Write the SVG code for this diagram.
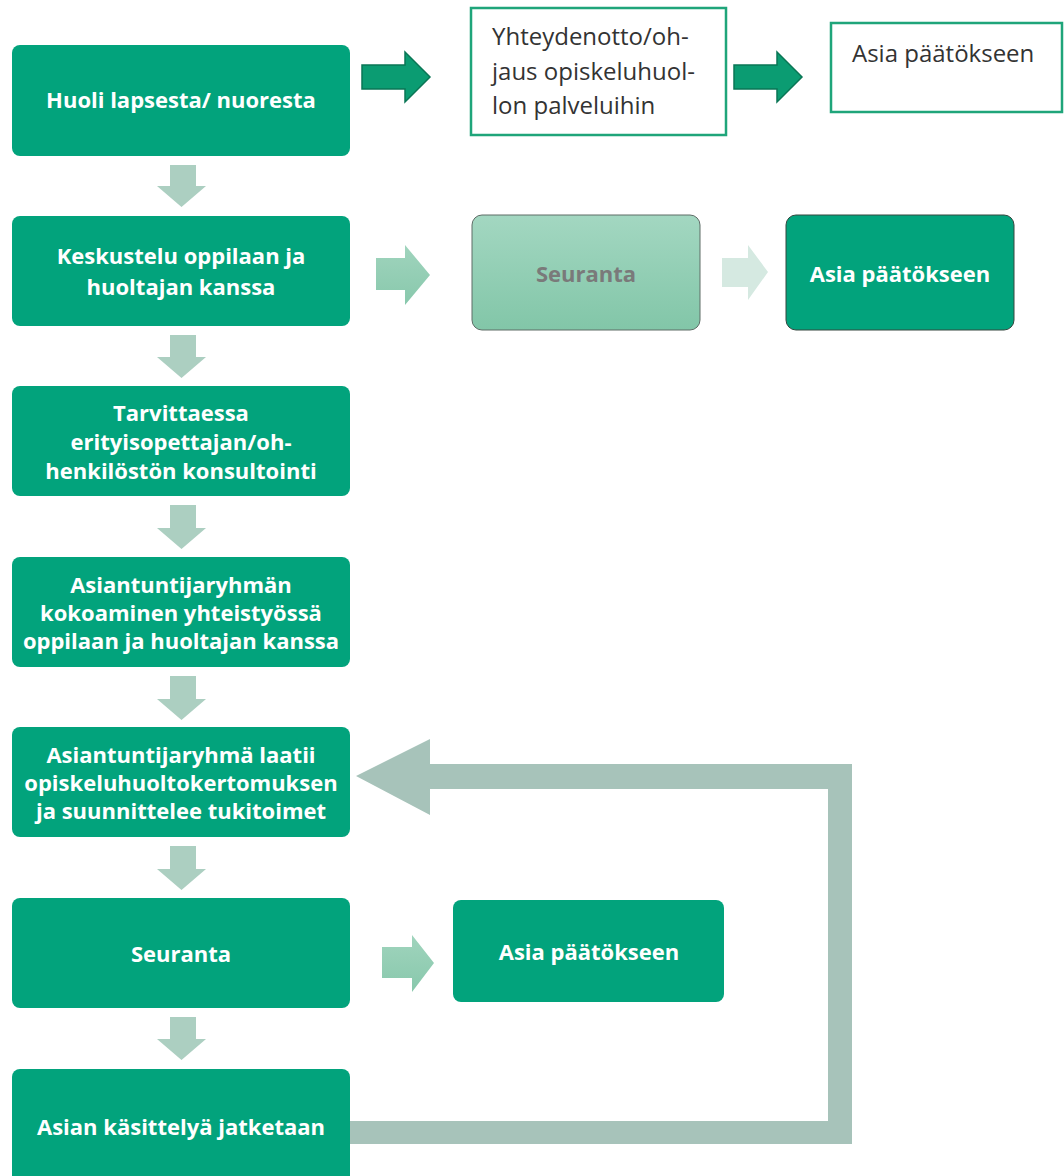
<svg xmlns="http://www.w3.org/2000/svg" width="1064" height="1176" viewBox="0 0 1064 1176">
  <defs>
    <linearGradient id="gSeur" x1="0" y1="0" x2="0" y2="1">
      <stop offset="0" stop-color="#A3D7C1"/>
      <stop offset="1" stop-color="#82C6A8"/>
    </linearGradient>
    <linearGradient id="gArr" x1="0" y1="0" x2="0" y2="1">
      <stop offset="0" stop-color="#A0D4BD"/>
      <stop offset="1" stop-color="#88C8AC"/>
    </linearGradient>
    <style>
      .box { fill: #02A37C; }
      .wbox { fill: #FFFFFF; stroke: #1FA57A; stroke-width: 2.5; }
      .t { font-family: "Open Sans", "Liberation Sans", sans-serif; font-weight: bold; font-size: 22px; fill: #FFFFFF; text-anchor: middle; }
      .tr { font-family: "Open Sans", "Liberation Sans", sans-serif; font-size: 24px; fill: #333333; }
      .down { fill: #ACCFC1; }
      .dark { fill: #0B9C72; stroke: #0A7655; stroke-width: 1.5; }
    </style>
  </defs>

  <g id="connectors">
    <path class="dark" d="M362,65 H405 V52 L430,77 L405,102 V89 H362 Z"/>
    <path class="dark" d="M734,65 H777 V52 L802,77 L777,102 V89 H734 Z"/>
    <path class="down" d="M170,165 H196 V186 H206 L181.5,207 L157,186 H170 Z"/>
    <path class="down" d="M170,335 H196 V357 H206 L181.5,378 L157,357 H170 Z"/>
    <path class="down" d="M170,505 H196 V528 H206 L181.5,549 L157,528 H170 Z"/>
    <path class="down" d="M170,676 H196 V699 H206 L181.5,720 L157,699 H170 Z"/>
    <path class="down" d="M170,846 H196 V869 H206 L181.5,890 L157,869 H170 Z"/>
    <path class="down" d="M170,1017 H196 V1039 H206 L181.5,1060 L157,1039 H170 Z"/>
    <path fill="url(#gArr)" d="M376,258 H405 V245 L430,275 L405,305 V290 H376 Z"/>
    <path fill="#D5E9E1" d="M722,258 H748 V245 L768,272 L748,300 V287 H722 Z"/>
    <path fill="url(#gArr)" d="M382,947 H412 V935 L434,963 L412,992 V978 H382 Z"/>
    <path fill="#A7C3BA" d="M348,1121 H828 V789 H430 V815 L356,776 L430,739 V764 H852 V1144 H348 Z"/>
  </g>

  <g id="n1">
    <rect class="box" x="12" y="45" width="338" height="111" rx="8"/>
    <text class="t" x="181" y="108">Huoli lapsesta/ nuoresta</text>
  </g>
  <g id="n2">
    <rect class="wbox" x="471" y="8" width="255" height="127"/>
    <text class="tr" x="492" y="45">Yhteydenotto/oh-</text>
    <text class="tr" x="492" y="80">jaus opiskeluhuol-</text>
    <text class="tr" x="492" y="114">lon palveluihin</text>
  </g>
  <g id="n3">
    <rect class="wbox" x="831" y="23" width="231" height="89"/>
    <text class="tr" x="852" y="62">Asia päätökseen</text>
  </g>
  <g id="n4">
    <rect class="box" x="12" y="216" width="338" height="110" rx="8"/>
    <text class="t" x="181" y="264">Keskustelu oppilaan ja</text>
    <text class="t" x="181" y="295">huoltajan kanssa</text>
  </g>
  <g id="n5">
    <rect fill="url(#gSeur)" stroke="#5E6C66" stroke-width="1" x="472" y="215" width="228" height="115" rx="10"/>
    <text class="t" x="586" y="282" style="fill:#7A7A7A">Seuranta</text>
  </g>
  <g id="n6">
    <rect class="box" stroke="#34463F" stroke-width="1" x="786" y="215" width="228" height="115" rx="10"/>
    <text class="t" x="900" y="282">Asia päätökseen</text>
  </g>
  <g id="n7">
    <rect class="box" x="12" y="386" width="338" height="110" rx="8"/>
    <text class="t" x="181" y="421">Tarvittaessa</text>
    <text class="t" x="181" y="450">erityisopettajan/oh-</text>
    <text class="t" x="181" y="479">henkilöstön konsultointi</text>
  </g>
  <g id="n8">
    <rect class="box" x="12" y="557" width="338" height="110" rx="8"/>
    <text class="t" x="181" y="593">Asiantuntijaryhmän</text>
    <text class="t" x="181" y="621">kokoaminen yhteistyössä</text>
    <text class="t" x="181" y="649">oppilaan ja huoltajan kanssa</text>
  </g>
  <g id="n9">
    <rect class="box" x="12" y="727" width="338" height="110" rx="8"/>
    <text class="t" x="181" y="763">Asiantuntijaryhmä laatii</text>
    <text class="t" x="181" y="791">opiskeluhuoltokertomuksen</text>
    <text class="t" x="181" y="819">ja suunnittelee tukitoimet</text>
  </g>
  <g id="n10">
    <rect class="box" x="12" y="898" width="338" height="110" rx="8"/>
    <text class="t" x="181" y="962">Seuranta</text>
  </g>
  <g id="n11">
    <rect class="box" x="453" y="900" width="271" height="102" rx="8"/>
    <text class="t" x="589" y="960">Asia päätökseen</text>
  </g>
  <g id="n12">
    <rect class="box" x="12" y="1069" width="338" height="115" rx="8"/>
    <text class="t" x="181" y="1135">Asian käsittelyä jatketaan</text>
  </g>
</svg>
